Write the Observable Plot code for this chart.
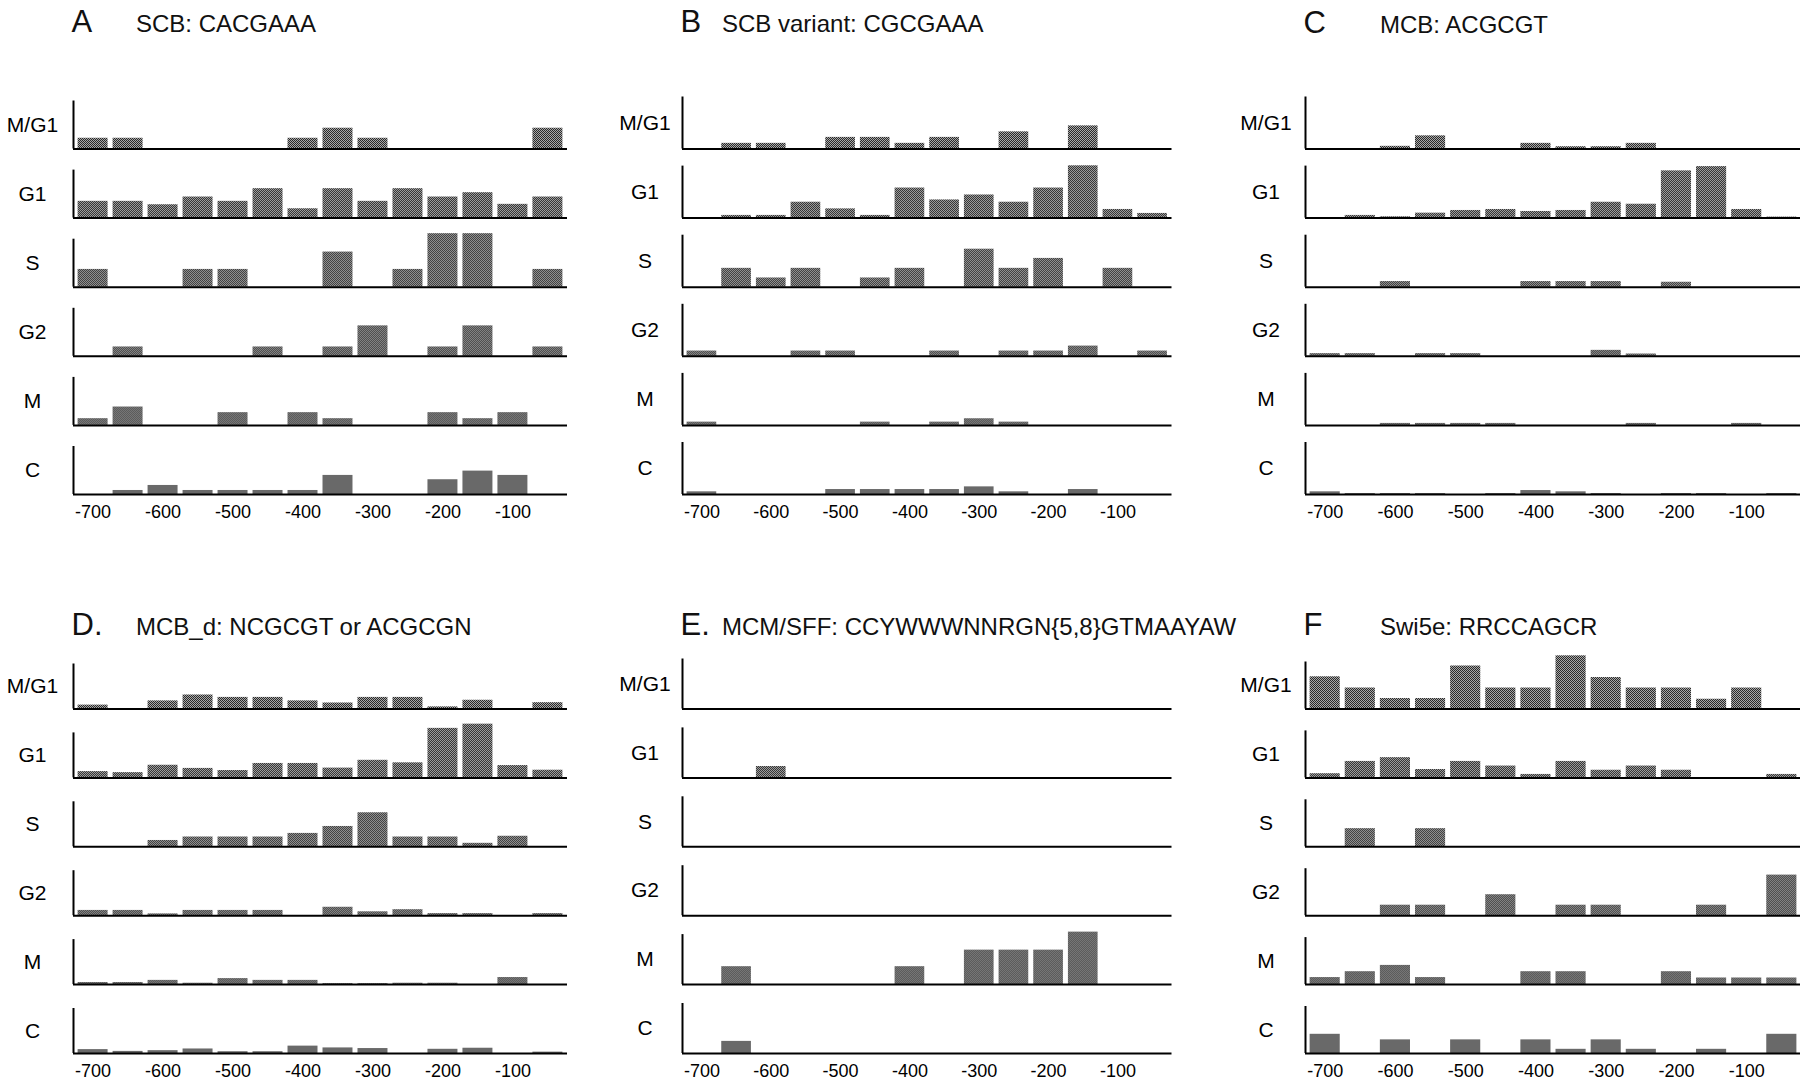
<!DOCTYPE html>
<html><head><meta charset="utf-8">
<script src="https://cdn.jsdelivr.net/npm/d3@7"></script>
<script src="https://cdn.jsdelivr.net/npm/@observablehq/plot@0.6"></script>
<style>
html,body{margin:0;padding:0;background:#fff;}
#root{position:relative;width:1800px;height:1083px;overflow:hidden;background:#fff;font-family:"Liberation Sans",Arial,Helvetica,sans-serif;color:#111;}
.letter{position:absolute;font-size:31px;line-height:1;white-space:nowrap;}
.sub{position:absolute;font-size:24px;line-height:1;white-space:nowrap;}
.panel{position:absolute;}
.panel svg{max-width:none !important;}
</style></head><body>
<svg width="0" height="0" style="position:absolute">
<defs><pattern id="dither" width="2" height="2" patternUnits="userSpaceOnUse">
<rect width="2" height="2" fill="#2a2a2a"/><rect x="0" y="0" width="1" height="1" fill="#a8a8a8"/><rect x="1" y="1" width="1" height="1" fill="#a8a8a8"/></pattern></defs></svg>
<div id="root"></div>
<script>
// ---- data ----
const phases = ["M/G1", "G1", "S", "G2", "M", "C"];
const bins = [-700, -650, -600, -550, -500, -450, -400, -350, -300, -250, -200, -150, -100, -50];
const tickValues = [-700, -600, -500, -400, -300, -200, -100];
const letters = ["A", "B", "C", "D.", "E.", "F"];
const subtitles = ["SCB: CACGAAA", "SCB variant: CGCGAAA", "MCB: ACGCGT", "MCB_d: NCGCGT or ACGCGN", "MCM/SFF: CCYWWWNNRGN{5,8}GTMAAYAW", "Swi5e: RRCCAGCR"];

// bar heights per phase row (M/G1, G1, S, G2, M, C), 14 bins each
const scb = [
  [10.7,10.7,0,0,0,0,10.7,20.7,10.7,0,0,0,0,20.7],
  [16.7,16.7,13.3,21,16.7,29.3,9.3,29.3,16.7,29.3,21,25.3,13.7,21],
  [17.7,0,0,17.7,17.7,0,0,35,0,17.7,53.3,53.3,0,17.7],
  [0,9.3,0,0,0,9.3,0,9.3,30.3,0,9.3,30.3,0,9.3],
  [6.7,18.3,0,0,12.7,0,12.7,6.7,0,0,12.7,6.7,12.7,0],
  [0,4,9,4,4,4,4,19,0,0,14.7,23.3,19,0]
];
const scbVariant = [
  [0,5.7,5.7,0,11.7,11.7,5.7,11.7,0,17.3,0,23.3,0,0],
  [0,2.7,2.7,16,9.3,2.7,30.3,18.3,23.3,16,30.3,52.7,8.7,4.7],
  [0,19,9.3,19,0,9.3,19,0,38.3,19,29,0,19,0],
  [5.3,0,0,5.3,5.3,0,0,5.3,0,5.3,5.3,10.3,0,5.3],
  [3.3,0,0,0,0,3.3,0,3.3,6.7,3.3,0,0,0,0],
  [2.7,0,0,0,5,5,5,5,7.7,2.7,0,5,0,0]
];
const mcb = [
  [0,0,2.7,13.3,0,0,5.7,2.3,2.3,5.7,0,0,0,0],
  [0,2.7,1.3,5,7.7,8.7,6.7,7.7,16,14,47.7,52,8.7,1],
  [0,0,5.7,0,0,0,5.7,5.7,5.7,0,5,0,0,0],
  [2.7,2.7,0,2.7,2.7,0,0,0,6,2.3,0,0,0,0],
  [0,0,2,2,2,2,0,0,0,2,0,0,2,0],
  [2.7,1,1,1,0,1,4,2.7,1,0,1,1,0,1]
];
const mcbD = [
  [3.7,0,7.7,13.3,11,11,7.7,5.7,11,11,2,8.3,0,6],
  [6,5,12,9,7,13.7,13.7,9.3,16.7,14.3,47,51,11.7,7.3],
  [0,0,6,9.3,9.3,9.3,12.7,19.3,32.3,9.3,9.3,3.3,10,0],
  [5,5,1.7,5,5,5,0,8,3.7,5.7,2,2,0,2],
  [2,2,4,1.3,5.7,4,4,1,1,1.3,1.3,0,6.7,0],
  [3.7,2,2.7,4.3,1.7,1.7,7,5.3,4.7,0,4,5,0,1.3]
];
const mcmSff = [
  [0,0,0,0,0,0,0,0,0,0,0,0,0,0],
  [0,0,11,0,0,0,0,0,0,0,0,0,0,0],
  [0,0,0,0,0,0,0,0,0,0,0,0,0,0],
  [0,0,0,0,0,0,0,0,0,0,0,0,0,0],
  [0,17.3,0,0,0,0,17.3,0,33.3,33.3,33.3,50.7,0,0],
  [0,11.7,0,0,0,0,0,0,0,0,0,0,0,0]
];
const swi5e = [
  [30.7,20,10,10,41,20,20,50.7,30,20,20,9.3,20,0],
  [4,15.7,19.3,8,15.7,11.3,3.3,15.7,7.3,11.3,7.3,0,0,3.3],
  [0,17.3,0,17.3,0,0,0,0,0,0,0,0,0,0],
  [0,0,10,10,0,20,0,10,10,0,0,10,0,38.7],
  [6.7,12.3,18.3,6.7,0,0,12.3,12.3,0,0,12.3,6.3,6.3,6.3],
  [18.3,0,13,0,13,0,13,4,13,4,0,4,0,18.3]
];
const panelValues = [scb, scbVariant, mcb, mcbD, mcmSff, swi5e];
// value that corresponds to the full height of each row's axis line
const axisMax = [47.8, 52.4, 52.5, 42.7, 48.3, 44.8];

// ---- layout ----
const xDomain = [-728, -22];
const FONT = '"Liberation Sans", Arial, Helvetica, sans-serif';
const layout = [
  {axisX: 72.5, plotWidth: 494, top: 60, firstBase: 148.5, step: 69.1, band: 48, labelOffset: 41, mb: 35, titleBase: 32},
  {axisX: 681.5, plotWidth: 489.5, top: 60, firstBase: 148.5, step: 69.1, band: 52, labelOffset: 37.5, mb: 35, titleBase: 32},
  {axisX: 1304.5, plotWidth: 496, top: 60, firstBase: 148.5, step: 69.1, band: 52, labelOffset: 39.5, mb: 35, titleBase: 33},
  {axisX: 72.5, plotWidth: 494, top: 640, firstBase: 708.5, step: 68.9, band: 45, labelOffset: 41, mb: 30, titleBase: 635},
  {axisX: 681.5, plotWidth: 489.5, top: 640, firstBase: 708.5, step: 68.9, band: 50, labelOffset: 37.5, mb: 30, titleBase: 635},
  {axisX: 1304.5, plotWidth: 496, top: 640, firstBase: 708.5, step: 68.9, band: 47, labelOffset: 39.5, mb: 30, titleBase: 635}
];
const subX = [136, 722, 1380, 136, 722, 1380];

const root = document.getElementById("root");

layout.forEach((L, i) => {
  const rows = [];
  phases.forEach((ph, r) => panelValues[i][r].forEach((v, j) => {
    if (v > 0) rows.push({phase: ph, pos: bins[j], value: v});
  }));
  const marginLeft = 72, marginRight = 3;
  const marginTop = L.firstBase - L.top - L.band;
  const plotBottom = L.firstBase + 5 * L.step - L.top;
  const height = Math.round(plotBottom + L.mb);
  const width = marginLeft + L.plotWidth + marginRight;
  const chart = Plot.plot({
    width, height, marginLeft, marginRight, marginTop, marginBottom: height - plotBottom,
    style: {fontFamily: FONT, fontSize: "18px", color: "#000", background: "transparent", overflow: "visible", maxWidth: "none"},
    x: {domain: xDomain},
    y: {domain: [0, axisMax[i]], axis: null},
    fy: {domain: phases, paddingInner: 1 - L.band / L.step, paddingOuter: 0, axis: null, round: false},
    marks: [
      Plot.rect(rows, {x1: d => d.pos - 25, x2: d => d.pos + 25, y1: 0, y2: "value", fy: "phase",
        fill: "url(#dither)", insetLeft: 2.5, insetRight: 2.5}),
      Plot.ruleX([xDomain[0]], {stroke: "#000", strokeWidth: 2}),
      Plot.ruleY([0], {stroke: "#000", strokeWidth: 2}),
      Plot.text(phases, {fy: d => d, text: d => d, frameAnchor: "left", dx: -L.labelOffset,
        textAnchor: "middle", fontSize: 21, fill: "#000"}),
      Plot.axisX(tickValues, {tickSize: 0, tickPadding: 11, tickFormat: d => String(d), fontSize: 18, label: null, fill: "#000"})
    ]
  });
  const div = document.createElement("div");
  div.className = "panel";
  div.style.left = (L.axisX - marginLeft) + "px";
  div.style.top = L.top + "px";
  div.style.width = width + "px";
  div.style.height = height + "px";
  div.appendChild(chart);
  root.appendChild(div);

  const let_ = document.createElement("div");
  let_.className = "letter";
  let_.textContent = letters[i];
  let_.style.left = (L.axisX - 1) + "px";
  let_.style.top = (L.titleBase - 26.2) + "px";
  root.appendChild(let_);

  const sub = document.createElement("div");
  sub.className = "sub";
  sub.textContent = subtitles[i];
  sub.style.left = subX[i] + "px";
  sub.style.top = (L.titleBase - 20.3) + "px";
  root.appendChild(sub);
});
</script>
</body></html>
